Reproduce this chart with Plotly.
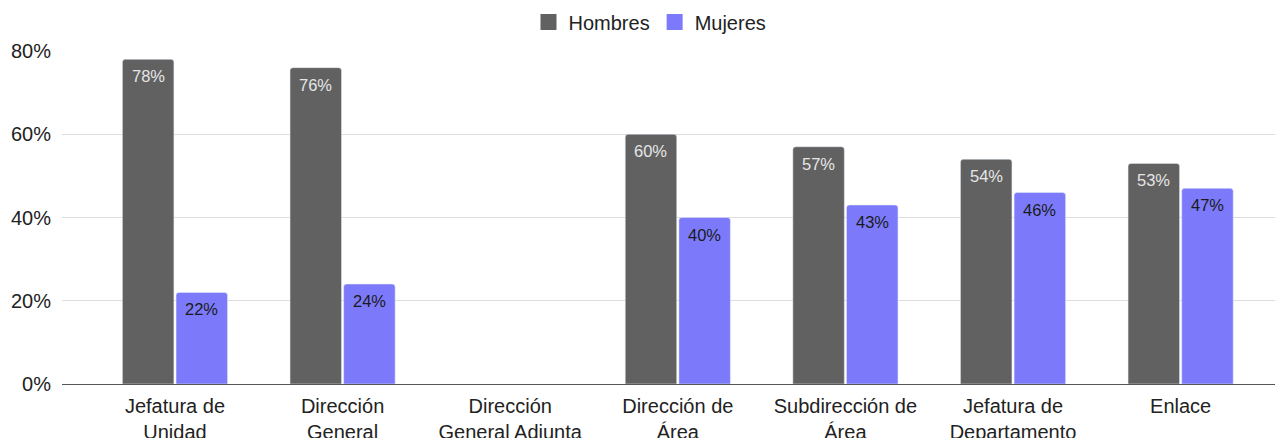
import plotly.graph_objects as go

categories = [
    "Jefatura de<br>Unidad",
    "Dirección<br>General",
    "Dirección<br>General Adjunta",
    "Dirección de<br>Área",
    "Subdirección de<br>Área",
    "Jefatura de<br>Departamento",
    "Enlace",
]
hombres = [78, 76, None, 60, 57, 54, 53]
mujeres = [22, 24, None, 40, 43, 46, 47]

color_h = "#616161"
color_m = "#7c7afa"
font_family = "Liberation Sans, Arial, sans-serif"

BARGAP = 0.36
GROUPGAP = 0.04
X_RANGE = [-0.674, 6.563]
PLOT_LEFT, PLOT_RIGHT = 62, 6
W, H = 1281, 438

fig = go.Figure()
fig.add_trace(go.Bar(name="Hombres", x=categories, y=hombres,
                     marker=dict(color=color_h), showlegend=False))
fig.add_trace(go.Bar(name="Mujeres", x=categories, y=mujeres,
                     marker=dict(color=color_m), showlegend=False))

# Legend entries drawn as square markers
for name, col in [("Hombres", color_h), ("Mujeres", color_m)]:
    fig.add_trace(go.Scatter(x=[None], y=[None], mode="markers", name=name,
                             marker=dict(symbol="square", size=16, color=col),
                             showlegend=True, hoverinfo="skip"))

# Value labels placed at the top inside each bar
plot_w = W - PLOT_LEFT - PLOT_RIGHT
px_per_cat = plot_w / (X_RANGE[1] - X_RANGE[0])
slot = (1 - BARGAP) / 2 * px_per_cat
for series, sign, tcol in [(hombres, -1, "#e6e6e6"), (mujeres, 1, "#1a1a1a")]:
    for cat, v in zip(categories, series):
        if v is None:
            continue
        fig.add_annotation(x=cat, y=v, xref="x", yref="y", text=f"{v}%",
                           showarrow=False, xshift=sign * slot / 2, yshift=-17,
                           yanchor="middle", xanchor="center",
                           font=dict(size=16.5, color=tcol, family=font_family))

fig.update_layout(
    width=W, height=H,
    margin=dict(l=PLOT_LEFT, r=PLOT_RIGHT, t=51, b=54, autoexpand=False),
    paper_bgcolor="white", plot_bgcolor="white",
    font=dict(family=font_family, size=20, color="#222222"),
    barmode="group", bargap=BARGAP, bargroupgap=GROUPGAP,
    barcornerradius=3,
    showlegend=True,
    legend=dict(
        orientation="h", xref="container", yref="container",
        x=650 / W, xanchor="center", y=1 - 22 / H, yanchor="middle",
        font=dict(size=20, color="#222222"), traceorder="normal",
    ),
    xaxis=dict(
        range=X_RANGE, showgrid=False, showline=False, zeroline=False,
        tickfont=dict(size=20, color="#222222"), ticks="",
        automargin=False, ticklabelstandoff=8,
    ),
    yaxis=dict(
        range=[0, 80], tickvals=[0, 20, 40, 60, 80],
        ticktext=["0%", "20%", "40%", "60%", "80%"],
        showgrid=True, gridcolor="#dddddd", gridwidth=1,
        zeroline=True, zerolinecolor="#555555", zerolinewidth=1,
        showline=False, ticks="", ticklabelstandoff=10, automargin=False,
        tickfont=dict(size=20, color="#222222"),
    ),
)

fig.write_html("out.html")
